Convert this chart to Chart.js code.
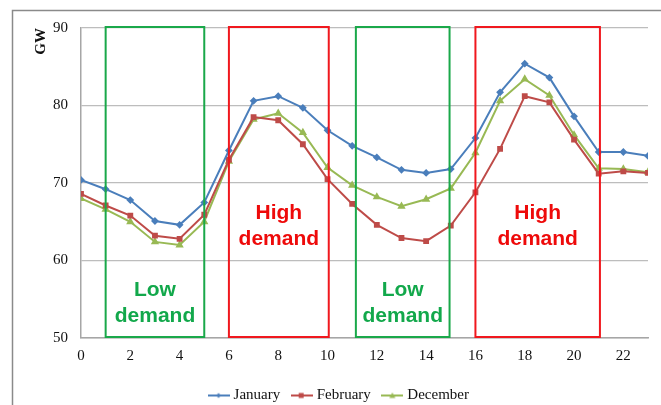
<!DOCTYPE html>
<html>
<head>
<meta charset="utf-8">
<script src="https://cdn.jsdelivr.net/npm/chart.js@4"></script>
<style>
  html, body { margin: 0; padding: 0; background: #fff; }
  #wrap { width: 661px; height: 405px; }
</style>
</head>
<body>
<div id="wrap"><canvas id="myChart" width="661" height="405"></canvas></div>
<script>
// horas del día
const horas = [0, 1, 2, 3, 4, 5, 6, 7, 8, 9, 10, 11, 12, 13, 14, 15, 16, 17, 18, 19, 20, 21, 22, 23];

// demanda en GW por mes
const enero = [70.4, 69.2, 67.8, 65.1, 64.6, 67.5, 74.2, 80.6, 81.2, 79.7, 76.8, 74.8,
               73.3, 71.7, 71.3, 71.8, 75.8, 81.7, 85.4, 83.6, 78.6, 74.0, 74.0, 73.5];
const febrero = [68.6, 67.1, 65.8, 63.2, 62.8, 65.9, 73.0, 78.5, 78.1, 75.0, 70.5, 67.3,
                 64.6, 62.9, 62.5, 64.5, 68.8, 74.4, 81.2, 80.4, 75.6, 71.2, 71.5, 71.3];
const diciembre = [68.0, 66.6, 65.0, 62.4, 62.0, 65.0, 72.8, 78.2, 79.0, 76.5, 72.0, 69.7,
                   68.2, 67.0, 67.9, 69.3, 73.9, 80.6, 83.4, 81.3, 76.2, 71.9, 71.8, 71.4];

// franjas de demanda (desde, hasta, tipo)
const franjaDesde = [1, 6, 11.15, 16];
const franjaHasta = [5, 10.05, 14.95, 21.05];
const franjaTipo = ['Low', 'High', 'Low', 'High'];

const yTicks = [50, 60, 70, 80, 90];

const serif = "'Liberation Serif', 'Times New Roman', serif";

function puntos(valores) {
    return horas.map((h, i) => ({ x: h, y: valores[i] }));
}

// icono de leyenda: línea con marcador en el centro
function iconoLeyenda(color, forma) {
    const c = document.createElement('canvas');
    c.width = 22;
    c.height = 8;
    const g = c.getContext('2d');
    g.strokeStyle = color;
    g.fillStyle = color;
    g.lineWidth = 2;
    g.beginPath();
    g.moveTo(0, 4);
    g.lineTo(22, 4);
    g.stroke();
    g.beginPath();
    if (forma === 'rect') {
        g.rect(8, 1.5, 5, 5);
    } else if (forma === 'triangle') {
        g.moveTo(11, 1); g.lineTo(14, 6.5); g.lineTo(8, 6.5); g.closePath();
    } else {
        g.moveTo(11, 1.5); g.lineTo(13.5, 4); g.lineTo(11, 6.5); g.lineTo(8.5, 4); g.closePath();
    }
    g.fill();
    return c;
}

// plugin para el marco exterior y las cajas de demanda
const cajasPlugin = {
    id: 'cajas',
    beforeDraw(chart) {
        const ctx = chart.ctx;
        ctx.save();
        ctx.fillStyle = '#fff';
        ctx.fillRect(0, 0, chart.width, chart.height);
        ctx.strokeStyle = '#8a8a8a';
        ctx.lineWidth = 1.5;
        ctx.beginPath();
        ctx.moveTo(12.5, chart.height);
        ctx.lineTo(12.5, 10.5);
        ctx.lineTo(chart.width, 10.5);
        ctx.stroke();
        ctx.restore();
    },
    afterDatasetsDraw(chart) {
        const ctx = chart.ctx;
        const xs = chart.scales.x;
        const ys = chart.scales.y;
        const top = ys.getPixelForValue(90) - 1;
        const bottom = ys.getPixelForValue(50) - 1;
        ctx.save();
        for (let i = 0; i < franjaDesde.length; i++) {
            const esAlta = franjaTipo[i] === 'High';
            const color = esAlta ? '#f0181e' : '#1aa84a';
            const x0 = xs.getPixelForValue(franjaDesde[i]);
            const x1 = xs.getPixelForValue(franjaHasta[i]);
            ctx.strokeStyle = color;
            ctx.lineWidth = 2;
            ctx.strokeRect(x0, top, x1 - x0, bottom - top);
            // texto de la caja
            ctx.fillStyle = esAlta ? '#ee0a0a' : '#12a84b';
            ctx.font = "bold 21px 'Liberation Sans', Arial, sans-serif";
            ctx.textAlign = 'center';
            ctx.textBaseline = 'middle';
            const cx = (x0 + x1) / 2;
            const y1 = esAlta ? 213 : 290;
            ctx.fillText(franjaTipo[i], cx, y1);
            ctx.fillText('demand', cx, y1 + 26);
        }
        ctx.restore();
    }
};

const ctx = document.getElementById('myChart').getContext('2d');
new Chart(ctx, {
    type: 'line',
    data: {
        datasets: [{
            label: 'January',
            data: puntos(enero),
            borderColor: '#4a7ebb',
            backgroundColor: '#4a7ebb',
            borderWidth: 2,
            pointStyle: 'rectRot',
            pointRadius: 2.5,
            fill: false
        }, {
            label: 'February',
            data: puntos(febrero),
            borderColor: '#be4b48',
            backgroundColor: '#be4b48',
            borderWidth: 2,
            pointStyle: 'rect',
            pointRadius: 2.7,
            fill: false
        }, {
            label: 'December',
            data: puntos(diciembre),
            borderColor: '#98b954',
            backgroundColor: '#98b954',
            borderWidth: 2,
            pointStyle: 'triangle',
            pointRadius: 2.8,
            fill: false
        }]
    },
    options: {
        responsive: false,
        animation: false,
        layout: { padding: { top: 28, right: 13, left: 32, bottom: -8 } },
        plugins: {
            legend: {
                position: 'bottom',
                labels: {
                    usePointStyle: true,
                    padding: 14,
                    color: '#111',
                    font: { family: serif, size: 15 },
                    generateLabels(chart) {
                        return chart.data.datasets.map((ds, i) => ({
                            text: ds.label,
                            pointStyle: iconoLeyenda(ds.borderColor, ds.pointStyle),
                            fillStyle: ds.borderColor,
                            strokeStyle: ds.borderColor,
                            lineWidth: 0,
                            fontColor: '#111',
                            hidden: false,
                            datasetIndex: i
                        }));
                    }
                }
            },
            tooltip: { enabled: false }
        },
        scales: {
            x: {
                type: 'linear',
                min: 0,
                max: 23,
                afterFit(scale) { scale.height = 36; },
                grid: { display: false, drawTicks: false },
                border: { color: '#a6a6a6', width: 1.5 },
                ticks: {
                    stepSize: 2,
                    includeBounds: false,
                    maxRotation: 0,
                    padding: 9,
                    color: '#111',
                    font: { family: serif, size: 15 }
                }
            },
            y: {
                min: 50,
                max: 90,
                afterFit(scale) { scale.width = 49; },
                afterBuildTicks(scale) { scale.ticks = yTicks.map(v => ({ value: v })); },
                grid: { color: '#bdbdbd', lineWidth: 1.2, drawTicks: false },
                border: { color: '#a6a6a6', width: 1.5 },
                title: {
                    display: true,
                    text: 'GW',
                    align: 'end',
                    color: '#111',
                    padding: { top: 0, bottom: 0 },
                    font: { family: serif, size: 15, weight: 'bold' }
                },
                ticks: {
                    padding: 13,
                    color: '#111',
                    font: { family: serif, size: 15 }
                }
            }
        }
    },
    plugins: [cajasPlugin]
});
</script>
</body>
</html>
